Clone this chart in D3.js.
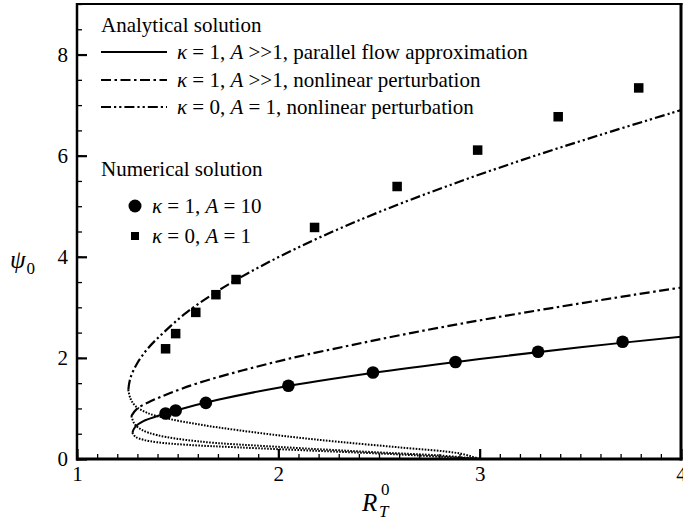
<!DOCTYPE html>
<html>
<head>
<meta charset="utf-8">
<script src="https://cdn.jsdelivr.net/npm/d3@7"></script>
<style>
  html, body { margin: 0; padding: 0; background: #fff; }
  svg { display: block; }
  svg text { font-family: "Liberation Serif", "Times New Roman", Times, "DejaVu Serif", serif !important; fill: #000; }
</style>
</head>
<body>
<script>
// ---------------- data ----------------
const xTickValues = [1, 2, 3, 4];
const yTickValues = [0, 2, 4, 6, 8];

// kappa = 1, A >> 1, parallel flow approximation (solid)
const parallelUpperR   = [1.275, 1.29, 1.33, 1.40, 1.50, 1.70, 2.00, 2.50, 3.00, 3.50, 4.00];
const parallelUpperPsi = [0.52, 0.64, 0.75, 0.85, 0.97, 1.17, 1.41, 1.72, 1.98, 2.21, 2.42];
const parallelLowerR   = [1.275, 1.29, 1.33, 1.40, 1.55, 1.80, 2.20, 2.60, 3.00];
const parallelLowerPsi = [0.52, 0.44, 0.38, 0.33, 0.28, 0.23, 0.16, 0.09, 0.00];

// kappa = 1, A >> 1, nonlinear perturbation (dash-dot)
const k1UpperR   = [1.27, 1.30, 1.37, 1.46, 1.60, 1.82, 2.07, 2.36, 2.67, 3.01, 3.38, 3.77, 4.00];
const k1UpperPsi = [0.85, 1.00, 1.15, 1.30, 1.50, 1.75, 2.00, 2.25, 2.50, 2.75, 3.00, 3.25, 3.39];
const k1LowerR   = [1.27, 1.285, 1.32, 1.40, 1.60, 2.00, 2.50, 2.80, 3.00];
const k1LowerPsi = [0.85, 0.70, 0.58, 0.47, 0.35, 0.24, 0.13, 0.07, 0.00];

// kappa = 0, A = 1, nonlinear perturbation (dash-dot-dot)
const k0UpperR   = [1.255, 1.265, 1.30, 1.355, 1.43, 1.545, 1.73, 1.955, 2.215, 2.51, 2.84, 3.20, 3.59, 4.00];
const k0UpperPsi = [1.37, 1.60, 1.90, 2.20, 2.50, 2.90, 3.40, 3.90, 4.40, 4.90, 5.40, 5.90, 6.40, 6.90];
const k0LowerR   = [1.255, 1.265, 1.29, 1.35, 1.45, 1.61, 1.80, 2.06, 2.30, 2.60, 2.90, 3.00];
const k0LowerPsi = [1.37, 1.20, 1.05, 0.91, 0.80, 0.68, 0.57, 0.44, 0.34, 0.23, 0.11, 0.00];

// numerical solutions
const circleR   = [1.44, 1.49, 1.64, 2.05, 2.47, 2.88, 3.29, 3.71];
const circlePsi = [0.90, 0.96, 1.11, 1.45, 1.71, 1.92, 2.12, 2.32];
const squareR   = [1.44, 1.49, 1.59, 1.69, 1.79, 2.18, 2.59, 2.99, 3.39, 3.79];
const squarePsi = [2.18, 2.48, 2.90, 3.25, 3.55, 4.58, 5.39, 6.11, 6.77, 7.34];

// ---------------- drawing ----------------
const W = 683, H = 520;
const SERIF = "'Liberation Serif', 'Times New Roman', Times, 'DejaVu Serif', serif";
const svg = d3.select("body").append("svg").attr("width", W).attr("height", H)
  .attr("font-family", SERIF);

const x = d3.scaleLinear().domain([1, 4]).range([77, 681]);
const y = d3.scaleLinear().domain([0, 9]).range([459, 4]);

const FONT = 21;
const DASHDOT = "10,3.5,2.5,3.5";
const DASHDOTDOT = "10,3,2.2,3,2.2,3";
const DOTTED = "1.6,1.4";

svg.append("defs").append("clipPath").attr("id", "plotclip")
  .append("rect").attr("x", x(1)).attr("y", y(9)).attr("width", x(4) - x(1)).attr("height", y(0) - y(9));

// axes: minor ticks
const gxMinor = svg.append("g").attr("transform", `translate(0,${y(0)})`)
  .call(d3.axisBottom(x).ticks(30).tickSize(-5).tickFormat(""));
const gyMinor = svg.append("g").attr("transform", `translate(${x(1)},0)`)
  .call(d3.axisLeft(y).ticks(18).tickSize(-5).tickFormat(""));
[gxMinor, gyMinor].forEach(g => {
  g.select(".domain").remove();
  g.selectAll(".tick line").attr("stroke", "#000").attr("stroke-width", 1.3);
});

// axes: major ticks with labels
const gx = svg.append("g").attr("transform", `translate(0,${y(0)})`)
  .call(d3.axisBottom(x).tickValues(xTickValues).tickSize(-10).tickPadding(7).tickFormat(d3.format("d")));
const gy = svg.append("g").attr("transform", `translate(${x(1)},0)`)
  .call(d3.axisLeft(y).tickValues(yTickValues).tickSize(-10).tickPadding(9).tickFormat(d3.format("d")));
[gx, gy].forEach(g => {
  g.attr("font-family", SERIF).attr("font-size", FONT);
  g.select(".domain").remove();
  g.selectAll(".tick line").attr("stroke", "#000").attr("stroke-width", 2.2);
  g.selectAll(".tick text").attr("font-size", FONT).attr("font-family", SERIF).attr("fill", "#000");
});

// curves
const line = d3.line().x(d => x(d[0])).y(d => y(d[1])).curve(d3.curveCatmullRom.alpha(0.5));
const zip = (a, b) => a.map((v, i) => [v, b[i]]);
const plot = svg.append("g").attr("clip-path", "url(#plotclip)");

function curve(rs, ps, dash, width) {
  plot.append("path").attr("d", line(zip(rs, ps)))
    .attr("fill", "none").attr("stroke", "#000").attr("stroke-width", width)
    .attr("stroke-dasharray", dash);
}
curve(parallelLowerR, parallelLowerPsi, DOTTED, 2);
curve(k1LowerR, k1LowerPsi, DOTTED, 2);
curve(k0LowerR, k0LowerPsi, DOTTED, 2);
curve(parallelUpperR, parallelUpperPsi, null, 2);
curve(k1UpperR, k1UpperPsi, DASHDOT, 2.2);
curve(k0UpperR, k0UpperPsi, DASHDOTDOT, 2.2);

// markers
plot.selectAll("circle.num").data(zip(circleR, circlePsi)).join("circle")
  .attr("class", "num").attr("cx", d => x(d[0])).attr("cy", d => y(d[1])).attr("r", 6.3).attr("fill", "#000");
const sq = 9.5;
plot.selectAll("rect.num").data(zip(squareR, squarePsi)).join("rect")
  .attr("class", "num").attr("x", d => x(d[0]) - sq / 2).attr("y", d => y(d[1]) - sq / 2)
  .attr("width", sq).attr("height", sq).attr("fill", "#000");

// frame
const fr = svg.append("g").attr("stroke", "#000").attr("fill", "none");
fr.append("line").attr("x1", x(1)).attr("x2", x(1)).attr("y1", y(9) - 1).attr("y2", y(0) + 1.5).attr("stroke-width", 2.5);
fr.append("line").attr("x1", x(1) - 1).attr("x2", x(4) + 1.5).attr("y1", y(0)).attr("y2", y(0)).attr("stroke-width", 3);
fr.append("line").attr("x1", x(4)).attr("x2", x(4)).attr("y1", y(9) - 1).attr("y2", y(0) + 1.5).attr("stroke-width", 3);
fr.append("line").attr("x1", x(1) - 1).attr("x2", x(4) + 1.5).attr("y1", y(9)).attr("y2", y(9)).attr("stroke-width", 2.2);

// axis titles
const xt = svg.append("text").attr("x", 362).attr("y", 511).attr("font-size", 25);
xt.append("tspan").attr("font-style", "italic").text("R");
svg.append("text").attr("x", 381).attr("y", 495).attr("font-size", 17).text("0");
svg.append("text").attr("x", 379).attr("y", 517).attr("font-size", 17).attr("font-style", "italic").text("T");

const yt = svg.append("text").attr("x", 10).attr("y", 268).attr("font-size", 25);
yt.append("tspan").attr("font-style", "italic").text("ψ");
yt.append("tspan").attr("font-size", 17).attr("dy", 6).attr("dx", 1).text("0");

// legend
const lg = svg.append("g");
lg.append("text").attr("x", 101).attr("y", 32).attr("font-size", FONT).text("Analytical solution");
const rows = [
  { y: 52, dash: null, eq: " = 1, ", rest: " >>1, parallel flow approximation" },
  { y: 80, dash: DASHDOT, eq: " = 1, ", rest: " >>1, nonlinear perturbation" },
  { y: 107, dash: DASHDOTDOT, eq: " = 0, ", rest: " = 1, nonlinear perturbation" }
];
rows.forEach(r => {
  lg.append("line").attr("x1", 101).attr("x2", 167).attr("y1", r.y).attr("y2", r.y)
    .attr("stroke", "#000").attr("stroke-width", 2).attr("stroke-dasharray", r.dash);
  const t = lg.append("text").attr("x", 177).attr("y", r.y + 7).attr("font-size", FONT);
  t.append("tspan").attr("font-style", "italic").text("κ");
  t.append("tspan").text(r.eq);
  t.append("tspan").attr("font-style", "italic").text("A");
  t.append("tspan").text(r.rest);
});

lg.append("text").attr("x", 101).attr("y", 176).attr("font-size", FONT).text("Numerical solution");
lg.append("circle").attr("cx", 135).attr("cy", 206).attr("r", 6.5).attr("fill", "#000");
const t1 = lg.append("text").attr("x", 152).attr("y", 213).attr("font-size", FONT);
t1.append("tspan").attr("font-style", "italic").text("κ");
t1.append("tspan").text(" = 1, ");
t1.append("tspan").attr("font-style", "italic").text("A");
t1.append("tspan").text(" = 10");
lg.append("rect").attr("x", 135 - 4).attr("y", 236 - 4).attr("width", 8).attr("height", 8).attr("fill", "#000");
const t2 = lg.append("text").attr("x", 152).attr("y", 243).attr("font-size", FONT);
t2.append("tspan").attr("font-style", "italic").text("κ");
t2.append("tspan").text(" = 0, ");
t2.append("tspan").attr("font-style", "italic").text("A");
t2.append("tspan").text(" = 1");
</script>
</body>
</html>
